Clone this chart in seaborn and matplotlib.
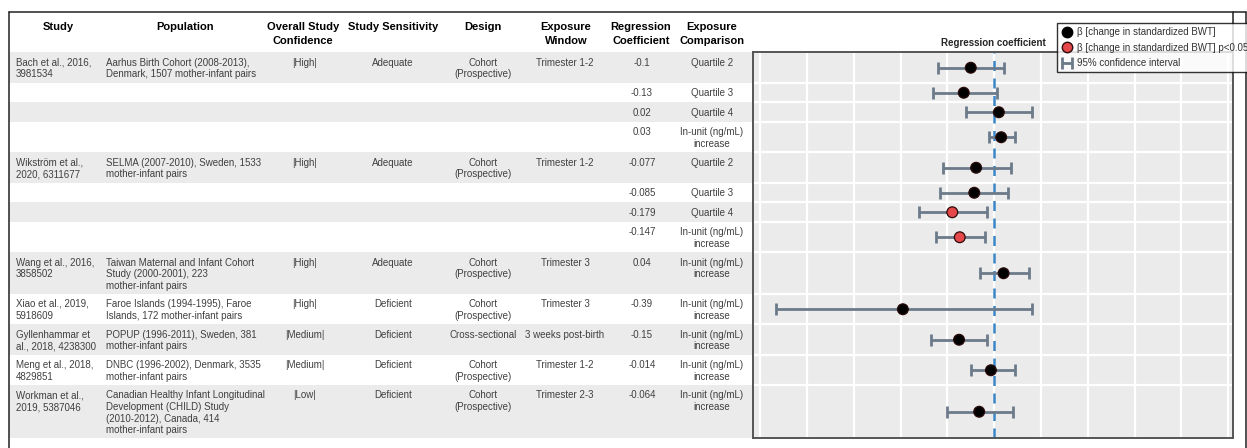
import numpy as np
import pandas as pd
import matplotlib
matplotlib.use("Agg")
import matplotlib.pyplot as plt
from matplotlib.lines import Line2D
import seaborn as sns

# ---- data -------------------------------------------------------------
study = [
    "Bach et al., 2016,\n3981534", "", "", "",
    "Wikström et al.,\n2020, 6311677", "", "", "",
    "Wang et al., 2016,\n3858502",
    "Xiao et al., 2019,\n5918609",
    "Gyllenhammar et\nal., 2018, 4238300",
    "Meng et al., 2018,\n4829851",
    "Workman et al.,\n2019, 5387046",
]
population = [
    "Aarhus Birth Cohort (2008-2013),\nDenmark, 1507 mother-infant pairs", "", "", "",
    "SELMA (2007-2010), Sweden, 1533\nmother-infant pairs", "", "", "",
    "Taiwan Maternal and Infant Cohort\nStudy (2000-2001), 223\nmother-infant pairs",
    "Faroe Islands (1994-1995), Faroe\nIslands, 172 mother-infant pairs",
    "POPUP (1996-2011), Sweden, 381\nmother-infant pairs",
    "DNBC (1996-2002), Denmark, 3535\nmother-infant pairs",
    "Canadian Healthy Infant Longitudinal\nDevelopment (CHILD) Study\n(2010-2012), Canada, 414\nmother-infant pairs",
]
confidence = ["|High|", "", "", "", "|High|", "", "", "", "|High|", "|High|",
              "|Medium|", "|Medium|", "|Low|"]
sensitivity = ["Adequate", "", "", "", "Adequate", "", "", "", "Adequate",
               "Deficient", "Deficient", "Deficient", "Deficient"]
design = ["Cohort\n(Prospective)", "", "", "", "Cohort\n(Prospective)", "", "", "",
          "Cohort\n(Prospective)", "Cohort\n(Prospective)", "Cross-sectional",
          "Cohort\n(Prospective)", "Cohort\n(Prospective)"]
window = ["Trimester 1-2", "", "", "", "Trimester 1-2", "", "", "", "Trimester 3",
          "Trimester 3", "3 weeks post-birth", "Trimester 1-2", "Trimester 2-3"]
comparison = ["Quartile 2", "Quartile 3", "Quartile 4", "In-unit (ng/mL)\nincrease",
              "Quartile 2", "Quartile 3", "Quartile 4", "In-unit (ng/mL)\nincrease",
              "In-unit (ng/mL)\nincrease", "In-unit (ng/mL)\nincrease",
              "In-unit (ng/mL)\nincrease", "In-unit (ng/mL)\nincrease",
              "In-unit (ng/mL)\nincrease"]
beta = [-0.1, -0.13, 0.02, 0.03, -0.077, -0.085, -0.179, -0.147, 0.04, -0.39,
        -0.15, -0.014, -0.064]
ci_low = [-0.24, -0.26, -0.12, -0.02, -0.22, -0.23, -0.32, -0.25, -0.06, -0.93,
          -0.27, -0.10, -0.20]
ci_high = [0.04, 0.01, 0.16, 0.09, 0.07, 0.06, -0.03, -0.04, 0.15, 0.16,
           -0.03, 0.09, 0.08]
significant = [False, False, False, False, False, False, True, True, False, False,
               False, False, False]
x_ticks = [-1, -0.8, -0.6, -0.4, -0.2, 0, 0.2, 0.4, 0.6, 0.8, 1]

# ---- style ------------------------------------------------------------
sns.set_theme(style="white")
plt.rcParams["font.family"] = ["Liberation Sans", "DejaVu Sans"]

W, H = 1247, 448
fig = plt.figure(figsize=(W / 100, H / 100), dpi=100)
fig.patch.set_facecolor("white")

# canvas axes in pixel units for the table part
bg = fig.add_axes([0, 0, 1, 1])
bg.set_xlim(0, W)
bg.set_ylim(H, 0)
bg.axis("off")

columns = [study, population, confidence, sensitivity, design, window,
           [f"{v:g}" for v in beta], comparison]

# row heights follow the tallest cell of each row
n_lines = [max(c[i].count("\n") + 1 if c[i] else 1 for c in columns)
           for i in range(len(beta))]
header_bottom = 52.5
heights = [8.5 + 11 * n for n in n_lines]
edges = header_bottom + np.concatenate([[0], np.cumsum(heights)])
centers = (edges[:-1] + edges[1:]) / 2
table_left, panel_left, panel_right = 9, 753, 1233

band_grey = "#EBEBEB"
for i in range(len(beta)):
    if i % 2 == 0:
        bg.fill_between([table_left, panel_left], edges[i], edges[i + 1],
                        color=band_grey, lw=0, zorder=0)

# headers
headers = [("Study", 58), ("Population", 185), ("Overall Study\nConfidence", 303),
           ("Study Sensitivity", 393), ("Design", 483), ("Exposure\nWindow", 566),
           ("Regression\nCoefficient", 641), ("Exposure\nComparison", 712)]
for txt, x in headers:
    bg.text(x, 22.5, txt, ha="center", va="top", fontsize=8, fontweight="bold",
            color="black", linespacing=1.45, multialignment="center")

# body cells
col_x = [(16, "left"), (106, "left"), (305, "center"), (393, "center"),
         (483, "center"), (565, "center"), (642, "center"), (712, "center")]
body_color = "#404040"
for col, (x, ha) in zip(columns, col_x):
    for i, txt in enumerate(col):
        if txt:
            bg.text(x, edges[i] + 5, txt, ha=ha, va="top", fontsize=7,
                    color=body_color, linespacing=1.2, multialignment=ha)

# outer frame
frame_kw = dict(color="#222222", lw=1.1, zorder=5)
bg.plot([table_left, table_left], [12, H], **frame_kw)
bg.plot([table_left, 1246], [12, 12], **frame_kw)
bg.plot([1246, 1246], [12, H], **frame_kw)
bg.plot([panel_right, panel_right], [12, header_bottom], **frame_kw)

# ---- forest panel -----------------------------------------------------
ax = fig.add_axes([panel_left / W, (H - edges[-1]) / H,
                   (panel_right - panel_left) / W, (edges[-1] - header_bottom) / H])
df = pd.DataFrame({"beta": beta, "lo": ci_low, "hi": ci_high,
                   "sig": significant, "ypos": centers})

ax.set_facecolor("#EBEBEB")
ax.set_xlim(-1.03, 1.02)
ax.set_ylim(edges[-1], header_bottom)
ax.set_xticks(x_ticks)
ax.set_xticklabels([f"{t:g}" for t in x_ticks])
ax.set_yticks(edges[1:-1])
ax.tick_params(axis="y", length=0, labelleft=False)
ax.tick_params(axis="x", length=5, width=1, color="#333333", labelsize=7,
               labelcolor="#333333", pad=2)
ax.grid(True, color="white", lw=1.6)
ax.set_axisbelow(True)
for s in ax.spines.values():
    s.set_color("#555555")
    s.set_linewidth(1.4)

ax.axvline(0, color="#3b86c6", ls=(0, (4, 3)), lw=1.8, zorder=2)

ci = ax.errorbar(df["beta"], df["ypos"],
                 xerr=[df["beta"] - df["lo"], df["hi"] - df["beta"]],
                 fmt="none", ecolor="#6c7a89", elinewidth=2, capsize=4,
                 capthick=2, zorder=3, label="95% confidence interval")

sns.scatterplot(data=df, x="beta", y="ypos", hue="sig",
                palette={False: "black", True: "#e5484a"}, s=60,
                edgecolor="#2a0a0a", linewidth=0.9, legend=False, zorder=4, ax=ax)
ax.set_xlabel("")
ax.set_ylabel("")
ax.set_title("Regression coefficient", fontsize=7, fontweight="bold", pad=5)

handles = [
    Line2D([], [], marker="o", ls="none", mfc="black", mec="black", ms=7.5),
    Line2D([], [], marker="o", ls="none", mfc="#e5484a", mec="#2a0a0a", ms=7.5),
    ci,
]
labels = ["β [change in standardized BWT]",
          "β [change in standardized BWT] p<0.05",
          "95% confidence interval"]
leg = fig.legend(handles, labels, loc="upper left",
                 bbox_to_anchor=(1057 / W, 1 - 23 / H), fontsize=7,
                 frameon=True, fancybox=False, edgecolor="black",
                 borderpad=0.45, labelspacing=0.55, handlelength=1.2,
                 handletextpad=0.4, borderaxespad=0)
leg.get_frame().set_linewidth(1.0)
for t in leg.get_texts():
    t.set_color("#333333")

fig.savefig("out.png", dpi=100)
